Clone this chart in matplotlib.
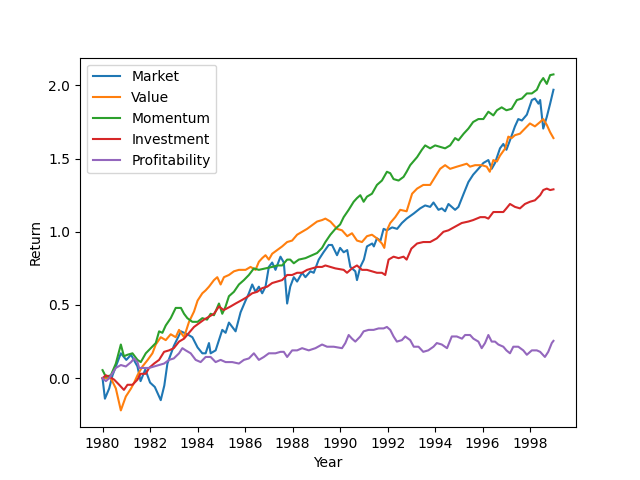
import matplotlib
matplotlib.use("Agg")
import matplotlib.pyplot as plt

# ---------------------- DATA ----------------------
# cumulative factor returns, time in decimal years

market_t = [1980.0, 1980.1, 1980.28, 1980.42, 1980.77, 1981.0, 1981.2, 1981.47, 1981.6, 1981.8,
            1982.0, 1982.2, 1982.45, 1982.6, 1982.73, 1983.0, 1983.3, 1983.57, 1983.78, 1984.0,
            1984.2, 1984.34, 1984.48, 1984.55, 1984.76, 1984.9, 1985.04, 1985.18, 1985.32, 1985.6,
            1985.81, 1986.02, 1986.16, 1986.3, 1986.44, 1986.58, 1986.72, 1986.86, 1987.0, 1987.14,
            1987.28, 1987.49, 1987.63, 1987.77, 1987.9, 1988.05, 1988.19, 1988.4, 1988.54, 1988.75,
            1988.89, 1989.1, 1989.3, 1989.52, 1989.66, 1989.87, 1990.0, 1990.15, 1990.3, 1990.43,
            1990.64, 1990.71, 1990.85, 1991.0, 1991.13, 1991.35, 1991.42, 1991.55, 1991.7, 1991.83,
            1991.97, 1992.19, 1992.4, 1992.6, 1992.8, 1993.1, 1993.37, 1993.58, 1993.79, 1993.93,
            1994.14, 1994.28, 1994.42, 1994.56, 1994.7, 1994.84, 1994.98, 1995.2, 1995.4, 1995.6,
            1995.82, 1996.03, 1996.24, 1996.38, 1996.52, 1996.73, 1996.87, 1997.0, 1997.15, 1997.36,
            1997.5, 1997.65, 1997.86, 1998.07, 1998.2, 1998.35, 1998.42, 1998.55, 1998.7, 1998.84,
            1998.98]
market = [0.0, -0.14, -0.07, 0.02, 0.17, 0.125, 0.16, 0.08, -0.02, 0.06,
          -0.03, -0.06, -0.15, -0.05, 0.10, 0.22, 0.32, 0.30, 0.28, 0.21,
          0.17, 0.17, 0.24, 0.17, 0.19, 0.26, 0.33, 0.31, 0.38, 0.32,
          0.45, 0.53, 0.58, 0.64, 0.59, 0.625, 0.58, 0.625, 0.76, 0.79,
          0.74, 0.83, 0.79, 0.51, 0.625, 0.69, 0.66, 0.72, 0.69, 0.73,
          0.72, 0.81, 0.86, 0.91, 0.91, 0.84, 0.89, 0.86, 0.875, 0.76,
          0.73, 0.67, 0.76, 0.81, 0.90, 0.92, 0.90, 0.955, 0.94, 1.02,
          1.01, 1.03, 1.02, 1.06, 1.09, 1.125, 1.16, 1.18, 1.17, 1.20,
          1.15, 1.16, 1.14, 1.19, 1.17, 1.15, 1.17, 1.26, 1.34, 1.39,
          1.43, 1.47, 1.49, 1.43, 1.47, 1.57, 1.60, 1.56, 1.625, 1.72,
          1.77, 1.76, 1.80, 1.90, 1.91, 1.875, 1.90, 1.705, 1.785, 1.875,
          1.97]

value_t = [1980.0, 1980.35, 1980.56, 1980.77, 1980.98, 1981.2, 1981.33, 1981.47, 1981.68, 1981.9,
           1982.1, 1982.24, 1982.45, 1982.66, 1982.87, 1983.08, 1983.22, 1983.43, 1983.64, 1983.85,
           1984.0, 1984.2, 1984.34, 1984.48, 1984.69, 1984.83, 1984.97, 1985.11, 1985.32, 1985.53,
           1985.74, 1986.02, 1986.23, 1986.44, 1986.58, 1986.72, 1986.86, 1987.0, 1987.14, 1987.35,
           1987.56, 1987.77, 1987.98, 1988.19, 1988.4, 1988.61, 1988.82, 1989.03, 1989.24, 1989.38,
           1989.59, 1989.87, 1990.08, 1990.3, 1990.5, 1990.71, 1990.92, 1991.13, 1991.34, 1991.55,
           1991.76, 1991.86, 1991.97, 1992.11, 1992.32, 1992.53, 1992.8, 1993.03, 1993.24, 1993.5,
           1993.79, 1994.0, 1994.21, 1994.42, 1994.63, 1994.92, 1995.13, 1995.33, 1995.47, 1995.68,
           1995.96, 1996.17, 1996.3, 1996.45, 1996.6, 1996.73, 1996.95, 1997.08, 1997.22, 1997.36,
           1997.57, 1997.78, 1997.99, 1998.2, 1998.42, 1998.55, 1998.7, 1998.84, 1998.98]
value = [0.0, 0.0, -0.07, -0.22, -0.125, -0.07, -0.03, 0.02, 0.08, 0.125,
         0.17, 0.23, 0.28, 0.26, 0.30, 0.28, 0.33, 0.28, 0.385, 0.455,
         0.53, 0.58, 0.60, 0.625, 0.67, 0.69, 0.64, 0.69, 0.705, 0.73,
         0.74, 0.74, 0.76, 0.74, 0.795, 0.82, 0.84, 0.81, 0.85, 0.875,
         0.90, 0.93, 0.94, 0.98, 1.0, 1.02, 1.045, 1.07, 1.08, 1.09,
         1.07, 1.02, 1.01, 0.97, 0.99, 0.94, 0.93, 0.97, 0.98, 0.955,
         0.92, 0.89, 1.01, 1.06, 1.10, 1.15, 1.14, 1.26, 1.295, 1.32,
         1.32, 1.375, 1.43, 1.455, 1.43, 1.445, 1.455, 1.465, 1.445, 1.455,
         1.455, 1.445, 1.41, 1.49, 1.48, 1.52, 1.57, 1.65, 1.64, 1.66,
         1.67, 1.705, 1.74, 1.72, 1.75, 1.77, 1.73, 1.68, 1.64]

momentum_t = [1980.0, 1980.14, 1980.35, 1980.56, 1980.77, 1980.9, 1981.05, 1981.26, 1981.47, 1981.61,
              1981.82, 1982.03, 1982.24, 1982.38, 1982.52, 1982.66, 1982.87, 1983.08, 1983.3, 1983.43,
              1983.57, 1983.78, 1984.0, 1984.2, 1984.4, 1984.55, 1984.69, 1984.9, 1985.04, 1985.18,
              1985.32, 1985.53, 1985.74, 1985.95, 1986.16, 1986.37, 1986.58, 1986.86, 1987.14, 1987.35,
              1987.56, 1987.77, 1987.9, 1988.05, 1988.26, 1988.54, 1988.82, 1989.03, 1989.24, 1989.38,
              1989.59, 1989.8, 1990.0, 1990.15, 1990.36, 1990.57, 1990.71, 1990.85, 1990.99, 1991.13,
              1991.34, 1991.55, 1991.76, 1991.97, 1992.11, 1992.25, 1992.46, 1992.67, 1992.8, 1992.95,
              1993.24, 1993.44, 1993.58, 1993.79, 1994.0, 1994.21, 1994.42, 1994.63, 1994.84, 1994.98,
              1995.2, 1995.4, 1995.6, 1995.82, 1996.03, 1996.24, 1996.45, 1996.6, 1996.8, 1997.0,
              1997.22, 1997.44, 1997.65, 1997.86, 1998.07, 1998.28, 1998.42, 1998.55, 1998.7, 1998.84,
              1998.98]
momentum = [0.055, 0.01, 0.02, 0.10, 0.23, 0.15, 0.16, 0.17, 0.125, 0.11,
            0.17, 0.205, 0.24, 0.32, 0.31, 0.36, 0.41, 0.48, 0.48, 0.44,
            0.41, 0.385, 0.385, 0.41, 0.40, 0.44, 0.43, 0.51, 0.44, 0.49,
            0.56, 0.59, 0.64, 0.67, 0.705, 0.75, 0.74, 0.75, 0.76, 0.77,
            0.77, 0.81, 0.81, 0.785, 0.81, 0.82, 0.84, 0.855, 0.89, 0.93,
            0.98, 1.02, 1.05, 1.10, 1.15, 1.205, 1.23, 1.25, 1.205, 1.24,
            1.26, 1.32, 1.35, 1.41, 1.40, 1.36, 1.35, 1.375, 1.41, 1.455,
            1.51, 1.56, 1.59, 1.57, 1.59, 1.58, 1.57, 1.59, 1.64, 1.625,
            1.67, 1.705, 1.75, 1.77, 1.77, 1.82, 1.795, 1.83, 1.85, 1.83,
            1.84, 1.90, 1.91, 1.945, 1.945, 1.97, 2.02, 2.05, 2.01, 2.07,
            2.075]

investment_t = [1980.0, 1980.14, 1980.28, 1980.49, 1980.7, 1980.9, 1981.05, 1981.26, 1981.47, 1981.6,
                1981.82, 1981.96, 1982.17, 1982.38, 1982.59, 1982.8, 1983.0, 1983.22, 1983.43, 1983.64,
                1983.85, 1984.06, 1984.27, 1984.48, 1984.69, 1984.9, 1985.1, 1985.39, 1985.6, 1985.88,
                1986.09, 1986.3, 1986.51, 1986.72, 1986.93, 1987.14, 1987.35, 1987.56, 1987.77, 1987.98,
                1988.19, 1988.4, 1988.61, 1988.82, 1989.03, 1989.24, 1989.38, 1989.59, 1989.8, 1990.15,
                1990.29, 1990.5, 1990.71, 1990.92, 1991.13, 1991.34, 1991.55, 1991.76, 1991.9, 1992.04,
                1992.25, 1992.46, 1992.67, 1992.8, 1993.0, 1993.24, 1993.5, 1993.79, 1994.07, 1994.35,
                1994.56, 1994.84, 1995.12, 1995.4, 1995.6, 1995.9, 1996.1, 1996.24, 1996.45, 1996.66,
                1996.87, 1997.0, 1997.15, 1997.36, 1997.57, 1997.78, 1997.99, 1998.2, 1998.42, 1998.55,
                1998.7, 1998.84, 1998.98]
investment = [0.0, 0.02, 0.01, -0.01, -0.045, -0.08, -0.045, -0.045, -0.01, 0.03,
              0.03, 0.07, 0.10, 0.125, 0.18, 0.19, 0.205, 0.25, 0.27, 0.31,
              0.35, 0.375, 0.40, 0.42, 0.44, 0.49, 0.465, 0.49, 0.51, 0.535,
              0.555, 0.58, 0.59, 0.615, 0.625, 0.65, 0.66, 0.67, 0.705, 0.705,
              0.72, 0.72, 0.74, 0.75, 0.76, 0.76, 0.77, 0.76, 0.75, 0.74,
              0.72, 0.75, 0.77, 0.74, 0.74, 0.73, 0.72, 0.72, 0.705, 0.81,
              0.83, 0.82, 0.83, 0.81, 0.885, 0.92, 0.93, 0.93, 0.955, 1.0,
              1.01, 1.035, 1.06, 1.07, 1.08, 1.10, 1.10, 1.09, 1.135, 1.135,
              1.135, 1.16, 1.19, 1.17, 1.16, 1.19, 1.205, 1.215, 1.25, 1.285,
              1.295, 1.285, 1.29]

profitability_t = [1980.0, 1980.14, 1980.28, 1980.42, 1980.56, 1980.77, 1980.98, 1981.2, 1981.33, 1981.47,
                   1981.54, 1981.75, 1981.96, 1982.17, 1982.38, 1982.59, 1982.8, 1983.0, 1983.22, 1983.36,
                   1983.5, 1983.71, 1983.92, 1984.13, 1984.34, 1984.55, 1984.76, 1984.97, 1985.18, 1985.46,
                   1985.74, 1985.95, 1986.16, 1986.37, 1986.58, 1986.79, 1987.0, 1987.28, 1987.49, 1987.63,
                   1987.77, 1987.98, 1988.19, 1988.4, 1988.68, 1988.96, 1989.24, 1989.45, 1989.73, 1990.08,
                   1990.22, 1990.36, 1990.5, 1990.64, 1990.85, 1990.99, 1991.2, 1991.41, 1991.62, 1991.83,
                   1991.97, 1992.11, 1992.25, 1992.39, 1992.6, 1992.74, 1992.95, 1993.1, 1993.3, 1993.5,
                   1993.71, 1993.93, 1994.07, 1994.28, 1994.5, 1994.7, 1994.91, 1995.13, 1995.26, 1995.47,
                   1995.61, 1995.82, 1995.96, 1996.1, 1996.24, 1996.38, 1996.52, 1996.66, 1996.87, 1997.0,
                   1997.15, 1997.29, 1997.5, 1997.71, 1997.86, 1998.07, 1998.28, 1998.42, 1998.62, 1998.76,
                   1998.91, 1998.98]
profitability = [0.0, -0.02, 0.0, 0.035, 0.07, 0.09, 0.08, 0.11, 0.135, 0.11,
                 0.07, 0.07, 0.07, 0.08, 0.09, 0.10, 0.125, 0.135, 0.17, 0.205,
                 0.19, 0.17, 0.125, 0.11, 0.145, 0.145, 0.11, 0.125, 0.11, 0.11,
                 0.10, 0.125, 0.135, 0.17, 0.125, 0.145, 0.17, 0.17, 0.18, 0.18,
                 0.145, 0.19, 0.19, 0.205, 0.19, 0.205, 0.23, 0.215, 0.215, 0.205,
                 0.24, 0.295, 0.27, 0.25, 0.285, 0.32, 0.33, 0.33, 0.34, 0.34,
                 0.35, 0.33, 0.285, 0.25, 0.26, 0.285, 0.26, 0.215, 0.215, 0.18,
                 0.19, 0.215, 0.24, 0.23, 0.205, 0.285, 0.285, 0.27, 0.295, 0.295,
                 0.27, 0.25, 0.205, 0.24, 0.295, 0.25, 0.25, 0.23, 0.215, 0.19,
                 0.17, 0.215, 0.215, 0.19, 0.16, 0.19, 0.19, 0.18, 0.145, 0.18,
                 0.24, 0.255]

SERIES = [
    ("Market", market_t, market),
    ("Value", value_t, value),
    ("Momentum", momentum_t, momentum),
    ("Investment", investment_t, investment),
    ("Profitability", profitability_t, profitability),
]
YEAR_TICKS = list(range(1980, 1999, 2))
# ----------------------------------------------------------------------------

fig, ax = plt.subplots(figsize=(6.4, 4.8), dpi=100)

for name, t, vals in SERIES:
    ax.plot(t, vals, label=name)

ax.set_xticks(YEAR_TICKS)
ax.set_xlabel("Year")
ax.set_ylabel("Return")
ax.legend(loc="upper left")

fig.savefig("out.png")
